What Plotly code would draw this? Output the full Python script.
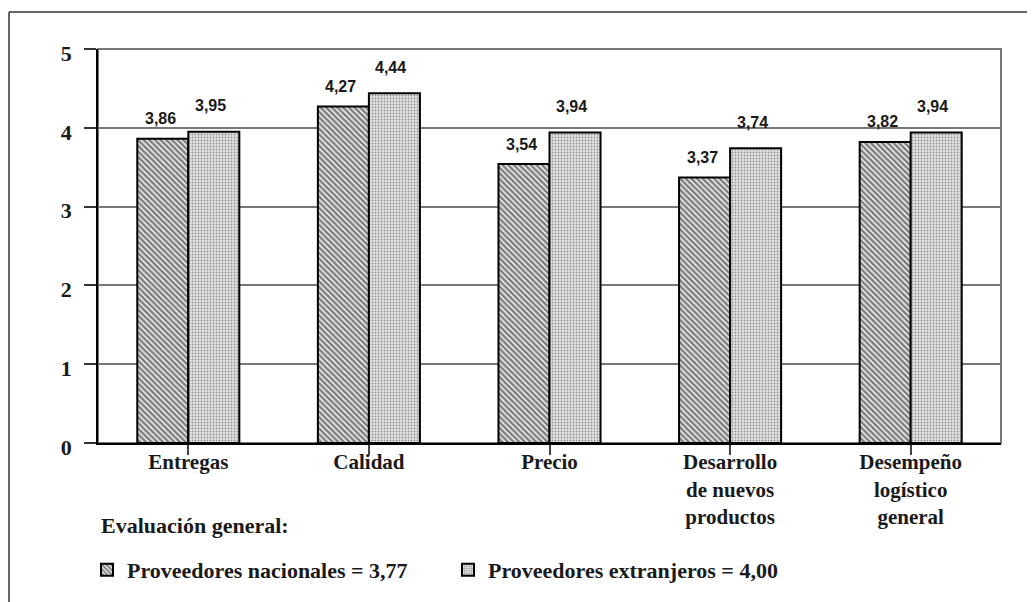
import plotly.graph_objects as go

categories = ["Entregas", "Calidad", "Precio", "Desarrollo<br>de nuevos<br>productos",
              "Desempeño<br>logístico<br>general"]
nacionales = [3.86, 4.27, 3.54, 3.37, 3.82]
extranjeros = [3.95, 4.44, 3.94, 3.74, 3.94]
name_nac = "Proveedores nacionales = 3,77"
name_ext = "Proveedores extranjeros = 4,00"
legend_title = "Evaluación general:"
y_ticks = [0, 1, 2, 3, 4, 5]

SERIF = "Liberation Serif"
SANS = "Liberation Sans"

def fmt(v):
    return f"{v:.2f}".replace(".", ",")

x_idx = list(range(len(categories)))

fig = go.Figure()
fig.add_trace(go.Bar(
    x=x_idx, y=nacionales, name=name_nac,
    marker=dict(color="white", line=dict(color="black", width=2),
                pattern=dict(shape="\\", size=4, solidity=0.65,
                             fgcolor="black", bgcolor="white")),
))
fig.add_trace(go.Bar(
    x=x_idx, y=extranjeros, name=name_ext,
    marker=dict(color="#d6d6d6", line=dict(color="black", width=2),
                pattern=dict(shape=".", size=3, solidity=0.3,
                             fgcolor="#444444", bgcolor="#e2e2e2")),
))

# page body has an 8px margin: figure is drawn at (8, 8)
OFF = 8
W, H = 1035 - OFF, 602 - OFF
L, R, T, B = 98 - OFF, 34, 49 - OFF, 158
pw, ph = W - L - R, H - T - B

def px(x):
    return (x - OFF - L) / pw

def py(y):
    return (H + OFF - B - y) / ph

annotations = []
for i, v in enumerate(nacionales):
    annotations.append(dict(x=i, y=v, xref="x", yref="y", text=fmt(v), showarrow=False,
                            xshift=-28, yshift=20, yanchor="middle",
                            font=dict(family=SANS, size=16, color="#1a1a1a", weight="bold")))
for i, v in enumerate(extranjeros):
    annotations.append(dict(x=i, y=v, xref="x", yref="y", text=fmt(v), showarrow=False,
                            xshift=22, yshift=26, yanchor="middle",
                            font=dict(family=SANS, size=16, color="#1a1a1a", weight="bold")))
annotations.append(dict(x=px(99), y=py(527), xref="paper", yref="paper", text=legend_title,
                        showarrow=False, xanchor="left", yanchor="middle",
                        font=dict(family=SERIF, size=22, color="#1a1a1a", weight="bold")))

shapes = [
    dict(type="rect", xref="paper", yref="paper", x0=0, x1=1, y0=0, y1=1,
         line=dict(color="#777777", width=2), layer="below"),
    dict(type="line", xref="paper", yref="paper", x0=px(9), x1=px(1040), y0=py(12), y1=py(12),
         line=dict(color="#333333", width=1.5)),
    dict(type="line", xref="paper", yref="paper", x0=px(9), x1=px(9), y0=py(12), y1=py(610),
         line=dict(color="#333333", width=1.5)),
]

fig.update_layout(
    width=W, height=H,
    margin=dict(l=L, r=R, t=T, b=B),
    paper_bgcolor="white", plot_bgcolor="white",
    barmode="group", bargap=0.435, bargroupgap=0,
    showlegend=True,
    legend=dict(orientation="h", x=px(87), y=py(570), xanchor="left", yanchor="middle",
                entrywidth=316, entrywidthmode="pixels",
                font=dict(family=SERIF, size=22, color="#1a1a1a", weight="bold"),
                bgcolor="rgba(0,0,0,0)"),
    annotations=annotations,
    shapes=shapes,
    xaxis=dict(
        tickmode="array", tickvals=x_idx, ticktext=categories,
        range=[-0.5, len(categories) - 0.5],
        tickson="boundaries", ticks="outside", ticklen=10, tickwidth=1.5, tickcolor="#444",
        showline=True, linecolor="black", linewidth=2,
        showgrid=False, zeroline=False,
        tickfont=dict(family=SERIF, size=21, color="#1a1a1a", weight="bold"),
        ticklabelstandoff=-11,
    ),
    yaxis=dict(
        range=[0, 5], tickvals=y_ticks, ticktext=[str(t) for t in y_ticks],
        ticks="outside", ticklen=12, tickwidth=1.5, tickcolor="#333",
        showline=True, linecolor="black", linewidth=1.5,
        showgrid=True, gridcolor="#777777", gridwidth=2,
        zeroline=False,
        tickfont=dict(family=SERIF, size=22, color="#1a1a1a", weight="bold"),
        ticklabelstandoff=8, ticklabelshift=4,
    ),
)

fig.write_html("out.html")
